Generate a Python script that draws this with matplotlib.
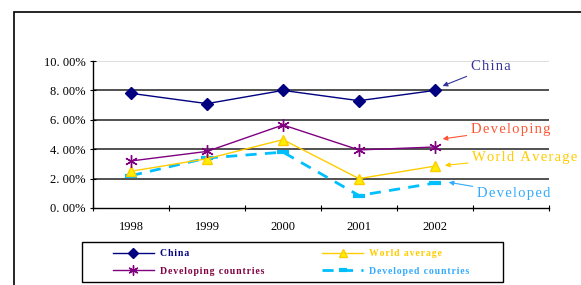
import matplotlib.pyplot as plt
from matplotlib.patches import Rectangle
import numpy as np

years = ['1998', '1999', '2000', '2001', '2002']
china = [7.8, 7.1, 8.0, 7.3, 8.0]
developing = [3.2, 3.85, 5.65, 3.95, 4.15]
world = [2.5, 3.35, 4.65, 2.0, 2.85]
developed = [2.2, 3.4, 3.8, 0.85, 1.7]
yticks = [0, 2, 4, 6, 8, 10]

plt.rcParams['font.family'] = ['Liberation Serif', 'DejaVu Serif']


def spaced(s, sep='\u200a'):
    # letter-spaced look of the original
    return sep.join(s)


fig = plt.figure(figsize=(5.81, 2.85), dpi=100)
fig.patch.set_facecolor('white')

# outer chart frame (cut off on the right and bottom)
fig.patches.append(Rectangle((14 / 581, -0.1), 1.0, 1 - 12 / 285 + 0.1,
                             transform=fig.transFigure, fill=False,
                             edgecolor='black', linewidth=1.2))
# legend frame
fig.patches.append(Rectangle((82 / 581, 3 / 285), 421 / 581, 40 / 285,
                             transform=fig.transFigure, fill=False,
                             edgecolor='black', linewidth=1))

ax = fig.add_axes([93 / 581, 1 - 208 / 285, 456 / 581, 147 / 285])
x = np.arange(len(years))

# grid lines
for v in yticks[1:]:
    col = '#d9d9d9' if v == 10 else '#333333'
    ax.axhline(v, color=col, linewidth=1.2, zorder=1)

l_china, = ax.plot(x, china, color='#000080', linewidth=1, marker='D', markersize=6, zorder=3)
l_world, = ax.plot(x, world, color='#FFCC00', linewidth=1, marker='^', markersize=7,
                   markerfacecolor='#FFEE00', markeredgecolor='#FFCC00', zorder=3)
l_dev, = ax.plot(x, developing, color='#800080', linewidth=1, marker=(6, 2, 0), markersize=9,
                 markeredgewidth=1, zorder=3)
l_dvd, = ax.plot(x, developed, color='#00BFFF', linewidth=2, linestyle=(0, (4, 3)), marker='_',
                 markersize=8, markeredgewidth=3, zorder=2)

ax.set_xlim(-0.5, 5.5)
ax.set_ylim(0, 10)
ax.set_yticks(yticks)
ax.set_yticklabels([f'{v}. 00%' for v in yticks], fontsize=9)
ax.set_xticks(np.arange(-0.5, 6, 1))
ax.set_xticklabels([])
ax.set_xticks(x, minor=True)
ax.set_xticklabels(years, minor=True, fontsize=9)
ax.tick_params(axis='x', which='minor', length=0, pad=9)
ax.tick_params(axis='x', which='major', length=5, direction='inout')
ax.tick_params(axis='y', length=4, direction='inout')
for s in ['top', 'right']:
    ax.spines[s].set_visible(False)
ax.spines['left'].set_linewidth(1)
ax.spines['bottom'].set_linewidth(1)
ax.set_facecolor('none')

# annotations: label, text pos, arrow tip, colour
notes = [
    ('China', (4.47, 9.6), (4.1, 8.3), '#333399'),
    ('Developing', (4.47, 5.35), (4.1, 4.7), '#FF5533'),
    ('World Average', (4.49, 3.45), (4.13, 2.9), '#FFCC00'),
    ('Developed', (4.55, 1.0), (4.18, 1.75), '#33AAFF'),
]
for label, txt, tip, col in notes:
    ax.annotate(spaced(label), xy=tip, xytext=txt, color=col, fontsize=10.5,
                va='center', ha='left', annotation_clip=False,
                arrowprops=dict(arrowstyle='-|>', color=col, linewidth=0.8,
                                mutation_scale=7, shrinkA=1, shrinkB=0))

# legend (column-wise: China, Developing | World, Developed)
handles = [l_china, l_dev, l_world, l_dvd]
labels = ['China', 'Developing countries', 'World average', 'Developed countries']
leg_colors = ['#000080', '#800040', '#FFCC00', '#33AAFF']
leg = fig.legend(handles, [spaced(s) for s in labels], loc='upper left',
                 bbox_to_anchor=(113 / 581, 1 - 249 / 285),
                 ncol=2, frameon=False, markerscale=0.8,
                 prop={'size': 7, 'weight': 'bold'}, handlelength=4.2, borderpad=0,
                 labelspacing=0.9, columnspacing=6.0, borderaxespad=0, handletextpad=0.6)
for t, c in zip(leg.get_texts(), leg_colors):
    t.set_color(c)

fig.savefig('out.png', dpi=100)
